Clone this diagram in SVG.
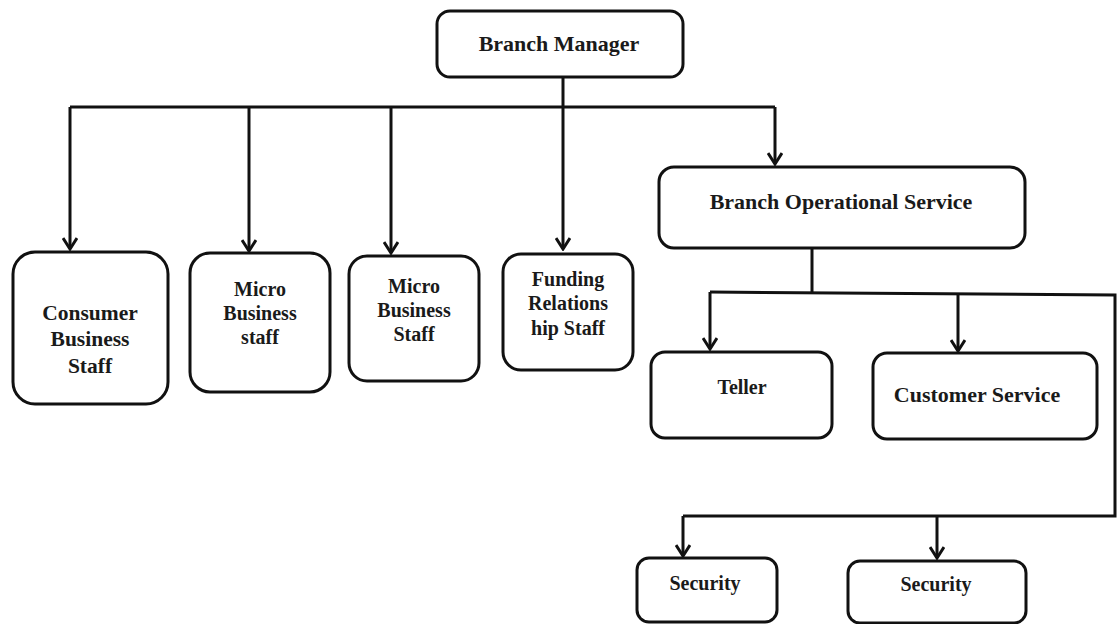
<svg xmlns="http://www.w3.org/2000/svg" width="1117" height="624" viewBox="0 0 1117 624">
<defs>
<style>
.box{fill:#fff;stroke:#111;stroke-width:3}
.t{font-family:"Liberation Serif","Times New Roman",serif;font-weight:bold;font-size:20px;fill:#1a1a1a;text-anchor:middle}
.big{font-size:22px}
.mid{font-size:21.5px}
.c{fill:none;stroke:#111;stroke-width:3}
</style>
<marker id="ah" markerUnits="userSpaceOnUse" viewBox="-12 -8 14 16" markerWidth="14" markerHeight="16" refX="0" refY="0" orient="auto">
<path d="M-11,-7 L0,0 L-11,7" fill="none" stroke="#111" stroke-width="3"/>
</marker>
</defs>
<rect width="1117" height="624" fill="#fff"/>
<g id="connectors">
<path class="c" d="M563,77 V249" marker-end="url(#ah)"/>
<path class="c" d="M70,107 H775"/>
<path class="c" d="M70,107 V249" marker-end="url(#ah)"/>
<path class="c" d="M249,107 V251" marker-end="url(#ah)"/>
<path class="c" d="M391,107 V253" marker-end="url(#ah)"/>
<path class="c" d="M775,107 V164" marker-end="url(#ah)"/>
<path class="c" d="M812,248 V292"/>
<path class="c" d="M710,292 L1115,295 V516 L683,516"/>
<path class="c" d="M710,292 V349" marker-end="url(#ah)"/>
<path class="c" d="M958,293 V351" marker-end="url(#ah)"/>
<path class="c" d="M683,516 V556" marker-end="url(#ah)"/>
<path class="c" d="M937,516 V558" marker-end="url(#ah)"/>
</g>
<g id="branch-manager">
<rect class="box" x="437" y="11" width="246" height="66" rx="13"/>
<text class="t big" x="559" y="51">Branch Manager</text>
</g>
<g id="branch-operational-service">
<rect class="box" x="659" y="167" width="366" height="81" rx="15"/>
<text class="t big" x="841" y="209">Branch Operational Service</text>
</g>
<g id="consumer-business-staff">
<rect class="box" x="13" y="252" width="155" height="152" rx="22"/>
<text class="t mid" x="90" y="320">Consumer</text>
<text class="t mid" x="90" y="346">Business</text>
<text class="t mid" x="90" y="373">Staff</text>
</g>
<g id="micro-business-staff-1">
<rect class="box" x="190" y="253" width="140" height="139" rx="20"/>
<text class="t" x="260" y="296">Micro</text>
<text class="t" x="260" y="320">Business</text>
<text class="t" x="260" y="344">staff</text>
</g>
<g id="micro-business-staff-2">
<rect class="box" x="349" y="256" width="130" height="125" rx="18"/>
<text class="t" x="414" y="293">Micro</text>
<text class="t" x="414" y="317">Business</text>
<text class="t" x="414" y="341">Staff</text>
</g>
<g id="funding-relationship-staff">
<rect class="box" x="503" y="254" width="130" height="116" rx="18"/>
<text class="t" x="568" y="286">Funding</text>
<text class="t" x="568" y="310">Relations</text>
<text class="t" x="568" y="335">hip Staff</text>
</g>
<g id="teller">
<rect class="box" x="651" y="352" width="181" height="86" rx="14"/>
<text class="t" x="742" y="394">Teller</text>
</g>
<g id="customer-service">
<rect class="box" x="873" y="353" width="224" height="86" rx="14"/>
<text class="t big" x="977" y="402">Customer Service</text>
</g>
<g id="security-1">
<rect class="box" x="637" y="558" width="140" height="64" rx="12"/>
<text class="t" x="705" y="590">Security</text>
</g>
<g id="security-2">
<rect class="box" x="848" y="561" width="178" height="62" rx="12"/>
<text class="t" x="936" y="591">Security</text>
</g>
</svg>
